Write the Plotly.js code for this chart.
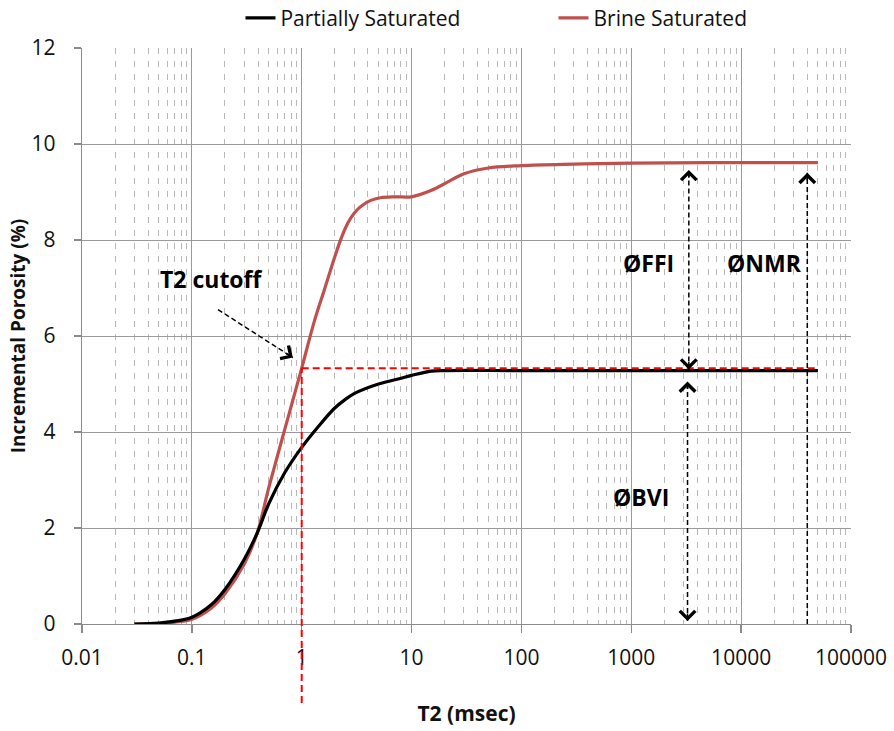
<!DOCTYPE html>
<html>
<head>
<meta charset="utf-8">
<script src="https://cdn.plot.ly/plotly-3.0.1.min.js"></script>
<style>html,body{margin:0;padding:0;background:#fff;}#chart{width:894px;height:731px;}</style>
</head>
<body>
<div id="chart"></div>
<script>
// ---- data ----
const brineT2 = [0.03, 0.05, 0.07, 0.1, 0.15, 0.2, 0.3, 0.394, 0.5, 0.7, 1, 1.3, 1.6, 1.8, 2.0, 2.2, 2.5, 2.8, 3.2, 3.6, 4.2, 5.2, 7, 10, 15, 21, 30, 50, 100, 300, 1000, 5000, 50000];
const brinePor = [0, 0.01, 0.04, 0.1, 0.33, 0.63, 1.25, 1.9, 2.83, 4.05, 5.33, 6.3, 6.95, 7.32, 7.65, 7.93, 8.25, 8.46, 8.63, 8.73, 8.82, 8.88, 8.9, 8.9, 9.03, 9.2, 9.38, 9.5, 9.55, 9.58, 9.6, 9.61, 9.61];
const partT2 = [0.03, 0.05, 0.07, 0.1, 0.15, 0.2, 0.3, 0.394, 0.5, 0.7, 1, 1.4, 2, 2.5, 3, 5, 8, 10, 15, 20, 100, 1000, 50000];
const partPor = [0, 0.02, 0.06, 0.14, 0.4, 0.72, 1.35, 1.9, 2.5, 3.15, 3.68, 4.1, 4.5, 4.68, 4.8, 5.0, 5.12, 5.18, 5.27, 5.28, 5.28, 5.28, 5.28];

const xTickVals = [0.01, 0.1, 1, 10, 100, 1000, 10000, 100000];
const xTickText = ["0.01", "0.1", "1", "10", "100", "1000", "10000", "100000"];
const yTickVals = [0, 2, 4, 6, 8, 10, 12];

// annotation values
const cutoffT2 = 1;
const cutoffPor = 5.33;
const cutoffEndT2 = 50000;
const ffiT2 = 3340, ffiTop = 9.46, ffiBottom = 5.3;
const bviT2 = 3250, bviTop = 5.05, bviBottom = 0.06;
const nmrT2 = 40000, nmrTop = 9.4, nmrBottom = 0;
const cutArrowFrom = [0.173, 6.55], cutArrowTo = [0.83, 5.55];
const labels = [
  {text: "T2 cutoff", x: 0.151, y: 7.18},
  {text: "ØFFI", x: 1445, y: 7.52},
  {text: "ØNMR", x: 16400, y: 7.52},
  {text: "ØBVI", x: 1222, y: 2.65}
];

const xRange = [-2, 5];
const yRange = [0, 12];
const L = Math.log10;

// minor gridline positions 2..9 in each decade
const minorVals = [];
for (let d = -2; d < 5; d++) for (let k = 2; k <= 9; k++) minorVals.push(k * Math.pow(10, d));

const FONT = "Open Sans, Liberation Sans, sans-serif";

const traces = [
  {x: brineT2, y: brinePor, type: "scatter", mode: "lines", name: "Brine Saturated",
   line: {color: "#C0504D", width: 3.2, shape: "spline", smoothing: 1}, legendrank: 2},
  {x: partT2, y: partPor, type: "scatter", mode: "lines", name: "Partially Saturated",
   line: {color: "#000000", width: 3.2, shape: "spline", smoothing: 1}, legendrank: 1}
];

const dashBlack = {color: "#000", width: 1.5, dash: "5px,3px"};
const cutPaperX = (L(cutoffT2) - xRange[0]) / (xRange[1] - xRange[0]);
const shapes = [
  {type: "line", xref: "x", yref: "y", x0: cutoffT2, x1: cutoffEndT2, y0: cutoffPor, y1: cutoffPor,
   line: {color: "#FF0000", width: 2, dash: "7px,4px"}},
  {type: "line", xref: "paper", yref: "paper", x0: cutPaperX, x1: cutPaperX,
   y0: -0.137, y1: cutoffPor / yRange[1],
   line: {color: "#FF0000", width: 2, dash: "7px,4px"}},
  {type: "line", xref: "x", yref: "y", x0: ffiT2, x1: ffiT2, y0: ffiBottom, y1: ffiTop, line: dashBlack},
  {type: "line", xref: "x", yref: "y", x0: bviT2, x1: bviT2, y0: bviBottom, y1: bviTop, line: dashBlack},
  {type: "line", xref: "x", yref: "y", x0: nmrT2, x1: nmrT2, y0: nmrBottom, y1: nmrTop, line: dashBlack},
  {type: "line", xref: "x", yref: "y", x0: cutArrowFrom[0], x1: cutArrowTo[0], y0: cutArrowFrom[1], y1: cutArrowTo[1], line: dashBlack}
];

function head(x, y, ax, ay) {
  return {x: L(x), y: y, xref: "x", yref: "y", ax: ax, ay: ay, axref: "pixel", ayref: "pixel",
    text: "", font: {size: 1}, borderpad: 0, showarrow: true, arrowhead: 4, arrowsize: 2, arrowwidth: 1.5,
    arrowcolor: "#000", standoff: 0};
}
const annotations = [
  head(ffiT2, ffiTop, 0, 8), head(ffiT2, ffiBottom, 0, -8),
  head(bviT2, bviTop, 0, 8), head(bviT2, bviBottom, 0, -8),
  head(nmrT2, nmrTop, 0, 8),
  head(cutArrowTo[0], cutArrowTo[1], -6.8, -4.4)
];
labels.forEach(l => annotations.push({x: L(l.x), y: l.y, xref: "x", yref: "y", text: l.text, showarrow: false,
  font: {family: FONT, size: 23, color: "#000", weight: "bold"}}));

const layout = {
  width: 894, height: 731,
  margin: {l: 82, r: 43, t: 48, b: 107, pad: 0},
  paper_bgcolor: "#fff", plot_bgcolor: "#fff",
  font: {family: FONT, color: "#111"},
  showlegend: true,
  legend: {orientation: "h", xref: "container", yref: "container", x: 0.269, xanchor: "left", y: 0.975, yanchor: "middle",
    font: {family: FONT, size: 21, color: "#111"}, entrywidth: 268, traceorder: "normal", bgcolor: "rgba(0,0,0,0)"},
  xaxis: {
    type: "log", range: xRange, tickmode: "array", tickvals: xTickVals, ticktext: xTickText,
    showgrid: true, gridcolor: "#9a9a9a", gridwidth: 1,
    showline: true, linecolor: "#8a8a8a", linewidth: 1.3,
    ticks: "outside", ticklen: 8, tickcolor: "#8a8a8a", tickwidth: 1.3,
    ticklabelstandoff: 6,
    tickfont: {family: FONT, size: 21, color: "#111"},
    minor: {tickmode: "array", tickvals: minorVals, showgrid: true, gridcolor: "#b8b8b8", gridwidth: 1, griddash: "6px,7px", ticks: ""},
    zeroline: false,
    title: {text: "T2 (msec)", font: {family: FONT, size: 21, color: "#111", weight: "bold"}, standoff: 36}
  },
  yaxis: {
    range: yRange, tickmode: "array", tickvals: yTickVals,
    showgrid: true, gridcolor: "#9a9a9a", gridwidth: 1,
    showline: true, linecolor: "#8a8a8a", linewidth: 1.3,
    ticks: "outside", ticklen: 7, tickcolor: "#8a8a8a", tickwidth: 1.3,
    ticklabelstandoff: 14,
    tickfont: {family: FONT, size: 21, color: "#111"},
    zeroline: false,
    title: {text: "Incremental Porosity (%)", font: {family: FONT, size: 19, color: "#111", weight: "bold"}, standoff: 0}
  },
  shapes: shapes,
  annotations: annotations
};

Plotly.newPlot("chart", traces, layout, {displayModeBar: false, staticPlot: true});
</script>
</body>
</html>
